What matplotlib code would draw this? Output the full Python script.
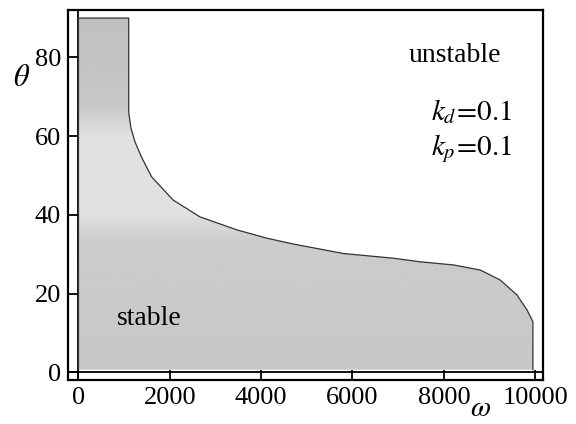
import matplotlib

matplotlib.use('Agg')
import matplotlib.pyplot as plt
import numpy as np
from matplotlib.patches import Polygon

# boundary of the stable region (omega, theta)
omega = [0, 0, 1100, 1100, 1150, 1240, 1380, 1600, 2070, 2660, 3470, 4120, 4710,
         5800, 6900, 7480, 8210, 8800, 9230, 9600, 9820, 9950, 9950]
theta = [0.7, 90, 90, 66, 62, 58.5, 54.7, 49.7, 43.8, 39.5, 36.2, 34.1, 32.6,
         30.2, 29.0, 28.1, 27.3, 26.0, 23.5, 19.7, 15.9, 12.9, 0.7]

x_ticks = [0, 2000, 4000, 6000, 8000, 10000]
y_ticks = [0, 20, 40, 60, 80]

plt.rcParams['font.family'] = 'Liberation Serif'
plt.rcParams['mathtext.fontset'] = 'stix'

fig = plt.figure(figsize=(5.76, 4.24), dpi=100)
ax = fig.add_axes([0.118, 0.104, 0.825, 0.872])

region = Polygon(np.column_stack([omega, theta]), closed=True, facecolor='none',
                 edgecolor='none', zorder=3)
ax.add_patch(region)
# outline without the bottom edge
ax.plot(omega, theta, color='#333333', lw=0.9, zorder=3)

# grey shading of the scan: lighter band in the middle
levels = np.linspace(0, 92, 200)
shade = np.interp(levels, [0, 33, 40, 60, 68, 92], [0.78, 0.80, 0.88, 0.88, 0.78, 0.75])
img = ax.imshow(shade[:, None], cmap='gray', vmin=0, vmax=1, origin='lower',
                extent=[0, 10000, 0, 92], aspect='auto', zorder=2)
img.set_clip_path(region)

ax.axhline(0, color='black', lw=1.3, zorder=1)
ax.axvline(0, color='black', lw=1.3, zorder=1)

ax.set_xlim(-230, 10175)
ax.set_ylim(-1.9, 92)
ax.set_xticks(x_ticks)
ax.set_yticks(y_ticks)
ax.tick_params(direction='in', length=7, width=1.3, labelsize=19, pad=5)
for s in ax.spines.values():
    s.set_linewidth(1.6)

ax.text(8250, 78.8, 'unstable', fontsize=20, ha='center', va='baseline')
ax.text(9500, 64.1, r'$k_d\!=\!0.1$', fontsize=21, ha='right', va='baseline')
ax.text(9500, 55.2, r'$k_p\!=\!0.1$', fontsize=21, ha='right', va='baseline')
ax.text(1544, 12.1, 'stable', fontsize=20, ha='center', va='baseline', zorder=4)

fig.text(22 / 576, 1 - 78 / 424, r'$\theta$', fontsize=22, ha='center', va='center')
fig.text(481 / 576, 1 - 409 / 424, r'$\omega$', fontsize=21, ha='center', va='center')

fig.savefig('out.png', dpi=100)
